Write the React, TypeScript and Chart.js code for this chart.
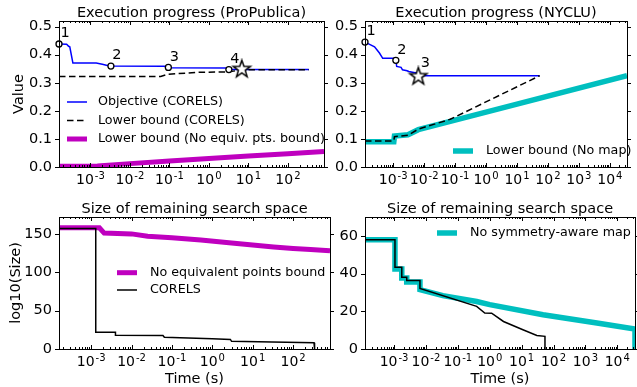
import React, { useEffect, useRef } from 'react';
import { Chart, registerables } from 'chart.js';

Chart.register(...registerables);

const FONT = '"DejaVu Sans", "Liberation Sans", sans-serif';
const BLUE = '#0000ff';
const MAGENTA = '#bf00bf';
const CYAN = '#00bfbf';

// ---------------- Panel A: Execution progress (ProPublica) ----------------
const ppXMin = 1.6e-4;
const ppXMax = 820;
const ppXTicks = [1e-3, 1e-2, 1e-1, 1, 10, 100];
const valueYTicks = [0, 0.1, 0.2, 0.3, 0.4, 0.5];
const ppObjT = [1.6e-4, 2.5e-4, 2.8e-4, 3.0e-4, 3.6e-4, 1.4e-3, 2.0e-3, 3.0e-3, 0.075, 0.09, 3.2, 3.2, 340];
const ppObjV = [0.438, 0.437, 0.43, 0.428, 0.37, 0.37, 0.366, 0.3595, 0.3585, 0.3535, 0.3525, 0.347, 0.347];
const ppLbT = [1.6e-4, 0.06, 0.09, 0.5, 3.2, 6.8, 340];
const ppLbV = [0.3225, 0.3225, 0.33, 0.337, 0.339, 0.346, 0.3465];
const ppNoEqT = [1.6e-4, 1.5e-3, 1e-2, 0.1, 1, 10, 100, 820];
const ppNoEqV = [0.003, 0.004, 0.012, 0.021, 0.03, 0.039, 0.047, 0.055];
const ppMarkT = [1.6e-4, 3.3e-3, 0.094, 3.2];
const ppMarkV = [0.438, 0.3595, 0.3545, 0.347];
const ppMarkLabels = ['1', '2', '3', '4'];
const ppStarT = [6.8];
const ppStarV = [0.348];

// ---------------- Panel B: Execution progress (NYCLU) ----------------
const nyXMin = 1.23e-4;
const nyXMax = 3.59e4;
const nyXTicks = [1e-3, 1e-2, 1e-1, 1, 10, 100, 1e3, 1e4];
const nyObjT = [1.23e-4, 1.8e-4, 2.5e-4, 3.6e-4, 4.6e-4, 1.2e-3, 1.3e-3, 1.8e-3, 2.0e-3, 2.8e-3, 3.2e-3, 5.5e-3, 6.5e-3, 54];
const nyObjV = [0.445, 0.436, 0.428, 0.406, 0.387, 0.387, 0.358, 0.355, 0.346, 0.343, 0.34, 0.335, 0.325, 0.325];
const nyLbT = [1.23e-4, 1.05e-3, 1.1e-3, 3.0e-3, 6.5e-3, 0.07, 54];
const nyLbV = [0.093, 0.093, 0.108, 0.113, 0.135, 0.17, 0.325];
const nyNoMapT = [1.23e-4, 1.05e-3, 1.1e-3, 3.0e-3, 6.5e-3, 0.1, 10, 3.59e4];
const nyNoMapV = [0.09, 0.09, 0.11, 0.115, 0.133, 0.167, 0.224, 0.325];
const nyMarkT = [1.23e-4, 1.22e-3];
const nyMarkV = [0.445, 0.38];
const nyMarkLabels = ['1', '2'];
const nyStarT = [6.5e-3];
const nyStarV = [0.3225];
const nyStarLabels = ['3'];

// ---------------- Panel C: Size of remaining search space (ProPublica) ----------------
const sizeYTicksA = [0, 50, 100, 150];
const ppSizeNoEqT = [1.6e-4, 1.6e-3, 2.1e-3, 1e-2, 0.025, 0.1, 0.52, 3, 33, 100, 270, 820];
const ppSizeNoEqV = [158, 158, 151, 150, 147, 145, 142, 138, 133, 131, 129.5, 128];
const ppSizeCorelsT = [1.6e-4, 1.3e-3, 1.3e-3, 4e-3, 4e-3, 0.06, 0.065, 1, 2.8, 3, 30, 330, 340];
const ppSizeCorelsV = [157, 157, 21.7, 21.7, 18, 17.5, 15.2, 13.5, 12.5, 10, 9, 8, 0];

// ---------------- Panel D: Size of remaining search space (NYCLU) ----------------
const sizeYTicksB = [0, 20, 40, 60];
const nySizeNoMapT = [1.23e-4, 1.07e-3, 1.07e-3, 1.75e-3, 1.75e-3, 2.5e-3, 2.5e-3, 6.5e-3, 6.5e-3, 0.034, 0.39, 1, 47, 2300, 3.59e4, 3.59e4];
const nySizeNoMapV = [58, 58, 42.4, 42.4, 37.6, 37.6, 35.5, 35.5, 31.5, 28.3, 25.2, 23.5, 18.2, 13.8, 10.6, 0];
const nySizeCorelsT = [1.23e-4, 1.07e-3, 1.07e-3, 1.75e-3, 1.75e-3, 2.5e-3, 2.5e-3, 6.5e-3, 6.5e-3, 0.39, 0.7, 1.15, 2.7, 11, 30, 54, 54];
const nySizeCorelsV = [58, 58, 43.4, 43.4, 38.1, 38.1, 36.3, 36.3, 32.1, 22.6, 19.1, 19, 14.6, 10.2, 7.2, 6.7, 0];

// ---------------------------------------------------------------------------
const pts = (t: number[], v: number[]) => t.map((x, i) => ({ x, y: v[i] }));

function makeStar(r: number) {
  const size = Math.ceil(r * 2 + 4);
  const c = document.createElement('canvas');
  c.width = size;
  c.height = size;
  const g = c.getContext('2d')!;
  g.beginPath();
  for (let i = 0; i < 10; i++) {
    const a = -Math.PI / 2 + (i * Math.PI) / 5;
    const rr = i % 2 === 0 ? r : r * 0.4;
    g.lineTo(size / 2 + rr * Math.cos(a), size / 2 + rr * Math.sin(a));
  }
  g.closePath();
  g.fillStyle = '#fff';
  g.fill();
  g.strokeStyle = '#000';
  g.lineWidth = 1.5;
  g.lineJoin = 'miter';
  g.stroke();
  return c;
}

const lineDs = (label: string, t: number[], v: number[], color: string, width: number, order: number, dash: number[] = []) => ({
  label,
  data: pts(t, v),
  borderColor: color,
  backgroundColor: color,
  borderWidth: width,
  borderDash: dash,
  pointRadius: 0,
  tension: 0,
  fill: false,
  clip: 0,
  order,
});

const markerDs = (t: number[], v: number[]) => ({
  label: 'markers',
  data: pts(t, v),
  showLine: false,
  pointRadius: 3,
  pointBorderWidth: 1.3,
  pointBorderColor: '#000',
  pointBackgroundColor: '#fff',
  clip: false,
  order: 0,
});

const starDs = (t: number[], v: number[], star: HTMLCanvasElement) => ({
  label: 'star',
  data: pts(t, v),
  showLine: false,
  pointRadius: 9,
  pointStyle: star,
  clip: false,
  order: 0,
});

type PanelCfg = {
  box: [number, number, number, number];
  area: [number, number, number, number];
  xMin: number;
  xMax: number;
  xTicks: number[];
  yMax: number;
  yTicks: number[];
  yFmt: (v: number) => string;
  title: string;
  yTitle?: string;
  yTitleX?: number;
  xTitle?: string;
  makeDatasets: (star: HTMLCanvasElement) => any[];
  legend: { items: number[]; sx: number; tx: number; y0: number; dy: number };
  labels: { ds: number; idx: number; text: string; dx: number; dy: number }[];
};

const TXT = 14.5;

function buildChart(canvas: HTMLCanvasElement, cfg: PanelCfg) {
  const [cx, cy, cw, ch] = cfg.box;
  const [L, T, R, B] = cfg.area;
  const star = makeStar(9);
  const datasets = cfg.makeDatasets(star);

  const deco = {
    id: 'deco',
    afterDraw(chart: any) {
      const ctx: CanvasRenderingContext2D = chart.ctx;
      const { left, right, top, bottom } = chart.chartArea;
      const xs = chart.scales.x;
      const ys = chart.scales.y;
      ctx.save();
      ctx.strokeStyle = '#000';
      ctx.lineWidth = 1;
      ctx.setLineDash([]);
      const seg = (x1: number, y1: number, x2: number, y2: number) => {
        ctx.beginPath();
        ctx.moveTo(x1, y1);
        ctx.lineTo(x2, y2);
        ctx.stroke();
      };
      ctx.strokeRect(left + 0.5, top + 0.5, right - left, bottom - top);
      const lo = Math.floor(Math.log10(xs.min));
      const hi = Math.ceil(Math.log10(xs.max));
      for (let e = lo; e <= hi; e++) {
        for (let m = 1; m <= 9; m++) {
          const v = m * Math.pow(10, e);
          if (v < xs.min || v > xs.max) continue;
          const px = Math.round(xs.getPixelForValue(v)) + 0.5;
          const len = m === 1 ? 4 : 2;
          seg(px, bottom, px, bottom - len);
          seg(px, top, px, top + len);
        }
      }
      for (const v of cfg.yTicks) {
        const py = Math.round(ys.getPixelForValue(v)) + 0.5;
        seg(left - 4, py, left, py);
        seg(right, py, right + 4, py);
      }

      ctx.fillStyle = '#000';
      // x tick labels: 10 with superscript exponent
      ctx.textBaseline = 'alphabetic';
      ctx.textAlign = 'left';
      for (const tk of xs.ticks) {
        const v = tk.value;
        const px = xs.getPixelForValue(v);
        const e = String(Math.round(Math.log10(v)));
        ctx.font = `${TXT - 0.5}px ${FONT}`;
        const wb = ctx.measureText('10').width;
        ctx.font = `10px ${FONT}`;
        const we = ctx.measureText(e).width;
        const x0 = px - (wb + 1 + we) / 2;
        const yb = bottom + 17;
        ctx.font = `${TXT - 0.5}px ${FONT}`;
        ctx.fillText('10', x0, yb);
        ctx.font = `10px ${FONT}`;
        ctx.fillText(e, x0 + wb + 1, yb - 5.5);
      }
      // title
      ctx.font = `${TXT}px ${FONT}`;
      ctx.textAlign = 'center';
      ctx.textBaseline = 'alphabetic';
      ctx.fillText(cfg.title, (left + right) / 2, top - 4.5);
      // axis titles
      if (cfg.xTitle) {
        ctx.fillText(cfg.xTitle, (left + right) / 2, bottom + 34);
      }
      if (cfg.yTitle) {
        ctx.save();
        ctx.translate(cfg.yTitleX ?? 18, (top + bottom) / 2);
        ctx.rotate(-Math.PI / 2);
        ctx.textBaseline = 'middle';
        ctx.fillText(cfg.yTitle, 0, 0);
        ctx.restore();
      }
      // number labels
      ctx.textAlign = 'center';
      ctx.textBaseline = 'middle';
      for (const lb of cfg.labels) {
        const p = chart.getDatasetMeta(lb.ds).data[lb.idx];
        if (p) ctx.fillText(lb.text, p.x + lb.dx, p.y + lb.dy);
      }
      // legend
      ctx.font = `12.7px ${FONT}`;
      ctx.textAlign = 'left';
      ctx.textBaseline = 'middle';
      cfg.legend.items.forEach((di, i) => {
        const ds = chart.data.datasets[di];
        const y = top + cfg.legend.y0 + i * cfg.legend.dy;
        ctx.save();
        ctx.strokeStyle = ds.borderColor;
        ctx.lineWidth = ds.borderWidth;
        ctx.setLineDash(ds.borderDash || []);
        ctx.beginPath();
        ctx.moveTo(left + cfg.legend.sx, y);
        ctx.lineTo(left + cfg.legend.sx + 20, y);
        ctx.stroke();
        ctx.restore();
        ctx.fillText(ds.label, left + cfg.legend.tx, y);
      });
      ctx.restore();
    },
  };

  return new Chart(canvas, {
    type: 'line',
    data: { datasets },
    plugins: [deco],
    options: {
      responsive: false,
      animation: false,
      devicePixelRatio: 1,
      layout: { padding: { left: 0, top: T - cy, right: cx + cw - R, bottom: 0 } },
      plugins: { legend: { display: false }, tooltip: { enabled: false }, title: { display: false } },
      scales: {
        x: {
          type: 'logarithmic',
          min: cfg.xMin,
          max: cfg.xMax,
          afterBuildTicks: (s: any) => {
            s.ticks = cfg.xTicks.filter((v) => v >= cfg.xMin && v <= cfg.xMax).map((v) => ({ value: v }));
          },
          afterFit: (s: any) => {
            s.height = cy + ch - B;
          },
          grid: { display: false, drawTicks: false },
          border: { display: false },
          ticks: { display: false, autoSkip: false, maxRotation: 0, minRotation: 0 },
        },
        y: {
          type: 'linear',
          min: 0,
          max: cfg.yMax,
          afterBuildTicks: (s: any) => {
            s.ticks = cfg.yTicks.map((v) => ({ value: v }));
          },
          afterFit: (s: any) => {
            s.width = L - cx;
          },
          grid: { display: false, drawTicks: false },
          border: { display: false },
          ticks: {
            padding: 7,
            color: '#000',
            font: { family: FONT, size: TXT },
            callback: (v: any) => cfg.yFmt(Number(v)),
          },
        },
      },
    } as any,
  });
}

const panels: PanelCfg[] = [
  {
    box: [0, 0, 334, 190],
    area: [59, 21, 330, 167],
    xMin: ppXMin,
    xMax: ppXMax,
    xTicks: ppXTicks,
    yMax: 0.52,
    yTicks: valueYTicks,
    yFmt: (v) => v.toFixed(1),
    title: 'Execution progress (ProPublica)',
    yTitle: 'Value',
    yTitleX: 19.5,
    makeDatasets: (star) => [
      lineDs('Objective (CORELS)', ppObjT, ppObjV, BLUE, 1.5, 2),
      lineDs('Lower bound (CORELS)', ppLbT, ppLbV, '#000', 1.5, 1, [6.5, 3.5]),
      lineDs('Lower bound (No equiv. pts. bound)', ppNoEqT, ppNoEqV, MAGENTA, 5, 3),
      markerDs(ppMarkT, ppMarkV),
      starDs(ppStarT, ppStarV, star),
    ],
    legend: { items: [0, 1, 2], sx: 8, tx: 39, y0: 81, dy: 18.5 },
    labels: ppMarkLabels.map((text, idx) => ({ ds: 3, idx, text, dx: 6, dy: -10.5 })),
  },
  {
    box: [334, 0, 303, 190],
    area: [365, 21, 635, 167],
    xMin: nyXMin,
    xMax: nyXMax,
    xTicks: nyXTicks,
    yMax: 0.52,
    yTicks: valueYTicks,
    yFmt: (v) => v.toFixed(1),
    title: 'Execution progress (NYCLU)',
    makeDatasets: (star) => [
      lineDs('Objective (CORELS)', nyObjT, nyObjV, BLUE, 1.5, 2),
      lineDs('Lower bound (CORELS)', nyLbT, nyLbV, '#000', 1.5, 1, [6.5, 3.5]),
      lineDs('Lower bound (No map)', nyNoMapT, nyNoMapV, CYAN, 5.5, 3),
      markerDs(nyMarkT, nyMarkV),
      starDs(nyStarT, nyStarV, star),
    ],
    legend: { items: [2], sx: 88, tx: 121, y0: 130, dy: 18 },
    labels: [
      ...nyMarkLabels.map((text, idx) => ({ ds: 3, idx, text, dx: 6, dy: -10.5 })),
      ...nyStarLabels.map((text, idx) => ({ ds: 4, idx, text, dx: 7, dy: -13.5 })),
    ],
  },
  {
    box: [0, 190, 334, 197],
    area: [59, 217, 330, 349],
    xMin: ppXMin,
    xMax: ppXMax,
    xTicks: ppXTicks,
    yMax: 172,
    yTicks: sizeYTicksA,
    yFmt: (v) => String(v),
    title: 'Size of remaining search space',
    yTitle: 'log10(Size)',
    yTitleX: 16,
    xTitle: 'Time (s)',
    makeDatasets: () => [
      lineDs('No equivalent points bound', ppSizeNoEqT, ppSizeNoEqV, MAGENTA, 5, 2),
      lineDs('CORELS', ppSizeCorelsT, ppSizeCorelsV, '#000', 1.5, 1),
    ],
    legend: { items: [0, 1], sx: 58, tx: 91, y0: 55.7, dy: 17.3 },
    labels: [],
  },
  {
    box: [334, 190, 303, 197],
    area: [365, 217, 635, 349],
    xMin: nyXMin,
    xMax: nyXMax,
    xTicks: nyXTicks,
    yMax: 70,
    yTicks: sizeYTicksB,
    yFmt: (v) => String(v),
    title: 'Size of remaining search space',
    xTitle: 'Time (s)',
    makeDatasets: () => [
      lineDs('No symmetry-aware map', nySizeNoMapT, nySizeNoMapV, CYAN, 5.5, 2),
      lineDs('CORELS', nySizeCorelsT, nySizeCorelsV, '#000', 1.5, 1),
    ],
    legend: { items: [0], sx: 72, tx: 105, y0: 16, dy: 18 },
    labels: [],
  },
];

function Panel({ cfg }: { cfg: PanelCfg }) {
  const ref = useRef<HTMLCanvasElement>(null);
  useEffect(() => {
    const chart = buildChart(ref.current!, cfg);
    return () => chart.destroy();
  }, [cfg]);
  const [x, y, w, h] = cfg.box;
  return (
    <canvas
      ref={ref}
      width={w}
      height={h}
      style={{ position: 'absolute', left: x, top: y, width: w, height: h, display: 'block' }}
    />
  );
}

export default function App() {
  return (
    <div style={{ position: 'fixed', left: 0, top: 0, width: 637, height: 387, background: '#fff', overflow: 'hidden' }}>
      {panels.map((p, i) => (
        <Panel key={i} cfg={p} />
      ))}
    </div>
  );
}
